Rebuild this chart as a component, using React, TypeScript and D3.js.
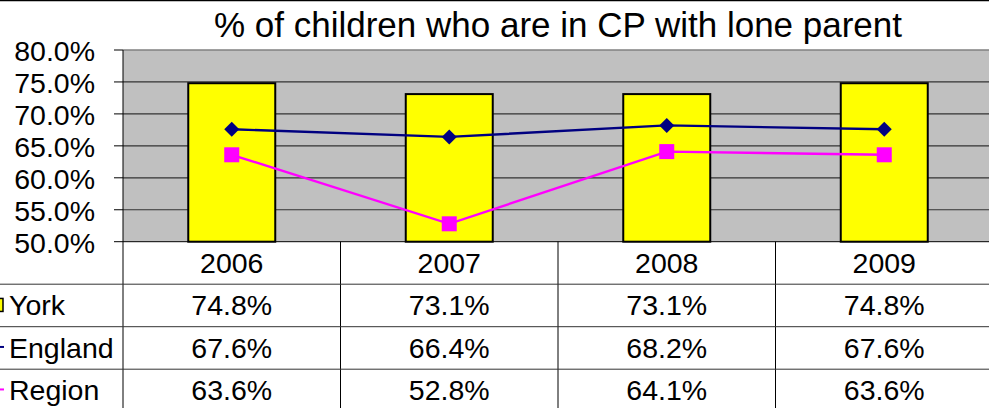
import React, { useEffect, useRef } from 'react';
import * as d3 from 'd3';

const years = ['2006', '2007', '2008', '2009'];
const york = [74.8, 73.1, 73.1, 74.8];
const england = [67.6, 66.4, 68.2, 67.6];
const region = [63.6, 52.8, 64.1, 63.6];
const yTicks = [50, 55, 60, 65, 70, 75, 80];

const W = 989;
const H = 408;
const FONT = 'Arial, "Liberation Sans", sans-serif';

const App: React.FC = () => {
  const svgRef = useRef<SVGSVGElement>(null);

  useEffect(() => {
    if (!svgRef.current) return;
    const svg = d3.select(svgRef.current);
    svg.selectAll('*').remove();

    const left = 123;
    const right = 993;
    const top = 50;
    const bottom = 241.7;
    const rowH = 42.5;

    const x = d3.scaleBand<string>()
      .domain(years)
      .range([left, right])
      .paddingInner(0.6)
      .paddingOuter(0.3);
    const step = x.step();
    const cx = (y: string) => (x(y) as number) + x.bandwidth() / 2;

    const y = d3.scaleLinear().domain([50, 80]).range([bottom, top]);

    // chart border top
    svg.append('line')
      .attr('x1', 0).attr('x2', W).attr('y1', 0.5).attr('y2', 0.5)
      .attr('stroke', '#000').attr('stroke-width', 1.5);

    // title
    svg.append('text')
      .attr('x', 558).attr('y', 37)
      .attr('text-anchor', 'middle')
      .attr('font-family', FONT).attr('font-size', 35)
      .text('% of children who are in CP with lone parent');

    // plot area
    svg.append('rect')
      .attr('x', left).attr('y', top)
      .attr('width', right - left).attr('height', bottom - top)
      .attr('fill', '#c0c0c0');
    svg.append('line')
      .attr('x1', left).attr('x2', right).attr('y1', top).attr('y2', top)
      .attr('stroke', '#808080').attr('stroke-width', 1.5);

    // gridlines
    svg.append('g').selectAll('line')
      .data(yTicks.slice(1, -1))
      .join('line')
      .attr('x1', left).attr('x2', right)
      .attr('y1', d => y(d)).attr('y2', d => y(d))
      .attr('stroke', '#333').attr('stroke-width', 1.2);

    // bars
    svg.append('g').selectAll('rect')
      .data(york)
      .join('rect')
      .attr('x', (_, i) => x(years[i]) as number)
      .attr('y', d => y(d))
      .attr('width', x.bandwidth())
      .attr('height', d => bottom - y(d))
      .attr('fill', '#ffff00')
      .attr('stroke', '#000').attr('stroke-width', 2);

    // lines
    const line = d3.line<number>()
      .x((_, i) => cx(years[i]))
      .y(d => y(d));

    svg.append('path')
      .attr('d', line(england) as string)
      .attr('fill', 'none').attr('stroke', '#000080').attr('stroke-width', 2.4);
    svg.append('path')
      .attr('d', line(region) as string)
      .attr('fill', 'none').attr('stroke', '#ff00ff').attr('stroke-width', 2.4);

    // England diamonds
    svg.append('g').selectAll('path')
      .data(england)
      .join('path')
      .attr('transform', (d, i) => `translate(${cx(years[i])},${y(d)}) rotate(45)`)
      .attr('d', d3.symbol().type(d3.symbolSquare).size(112) as any)
      .attr('fill', '#000080');

    // Region squares
    svg.append('g').selectAll('rect')
      .data(region)
      .join('rect')
      .attr('x', (_, i) => cx(years[i]) - 7.5)
      .attr('y', d => y(d) - 7.5)
      .attr('width', 15).attr('height', 15)
      .attr('fill', '#ff00ff');

    // y axis
    svg.append('line')
      .attr('x1', left).attr('x2', left).attr('y1', top).attr('y2', H)
      .attr('stroke', '#000').attr('stroke-width', 1);
    svg.append('line')
      .attr('x1', left).attr('x2', right).attr('y1', bottom).attr('y2', bottom)
      .attr('stroke', '#000').attr('stroke-width', 1);
    svg.append('g').selectAll('line')
      .data(yTicks)
      .join('line')
      .attr('x1', 114).attr('x2', left)
      .attr('y1', d => y(d)).attr('y2', d => y(d))
      .attr('stroke', '#000').attr('stroke-width', 1);
    svg.append('g').selectAll('text')
      .data(yTicks)
      .join('text')
      .attr('x', 95)
      .attr('y', d => y(d) + 11)
      .attr('text-anchor', 'end')
      .attr('font-family', FONT).attr('font-size', 28.5)
      .text(d => d.toFixed(1) + '%');

    // data table
    const t = svg.append('g');
    const rowTop = (r: number) => bottom + r * rowH;

    // vertical separators
    t.selectAll('line.v')
      .data(years.slice(1))
      .join('line')
      .attr('class', 'v')
      .attr('x1', d => (x(d) as number) - step * 0.3)
      .attr('x2', d => (x(d) as number) - step * 0.3)
      .attr('y1', bottom).attr('y2', H)
      .attr('stroke', '#000').attr('stroke-width', 1);
    // horizontal separators
    t.selectAll('line.h')
      .data([1, 2, 3])
      .join('line')
      .attr('class', 'h')
      .attr('x1', 0).attr('x2', W)
      .attr('y1', d => rowTop(d)).attr('y2', d => rowTop(d))
      .attr('stroke', '#333').attr('stroke-width', 1);

    // header
    t.selectAll('text.year')
      .data(years)
      .join('text')
      .attr('class', 'year')
      .attr('x', d => cx(d))
      .attr('y', rowTop(0) + 31)
      .attr('text-anchor', 'middle')
      .attr('font-family', FONT).attr('font-size', 28.5)
      .text(d => d);

    const rows = [
      { name: 'York', values: york },
      { name: 'England', values: england },
      { name: 'Region', values: region },
    ];

    rows.forEach((row, r) => {
      const ty = rowTop(r + 1);
      t.append('text')
        .attr('x', 9).attr('y', ty + 31)
        .attr('font-family', FONT).attr('font-size', 28.5)
        .text(row.name);
      t.selectAll(`text.v${r}`)
        .data(row.values)
        .join('text')
        .attr('class', `v${r}`)
        .attr('x', (_, i) => cx(years[i]))
        .attr('y', ty + 31)
        .attr('text-anchor', 'middle')
        .attr('font-family', FONT).attr('font-size', 28.5)
        .text(d => d.toFixed(1) + '%');
    });

    // legend keys
    const mid = (r: number) => rowTop(r) + rowH / 2;
    t.append('rect')
      .attr('x', -6).attr('y', mid(1) - 7)
      .attr('width', 9).attr('height', 13)
      .attr('fill', '#ffff00').attr('stroke', '#000').attr('stroke-width', 1.5);
    t.append('line')
      .attr('x1', 0).attr('x2', 4).attr('y1', mid(2) - 1).attr('y2', mid(2) - 1)
      .attr('stroke', '#000080').attr('stroke-width', 2);
    t.append('line')
      .attr('x1', 0).attr('x2', 4).attr('y1', mid(3) - 1).attr('y2', mid(3) - 1)
      .attr('stroke', '#ff00ff').attr('stroke-width', 2);
  }, []);

  return (
    <div style={{ position: 'fixed', left: 0, top: 0, width: W, height: H, background: '#fff' }}>
      <svg ref={svgRef} width={W} height={H} viewBox={`0 0 ${W} ${H}`} style={{ display: 'block' }} />
    </div>
  );
};

export default App;
